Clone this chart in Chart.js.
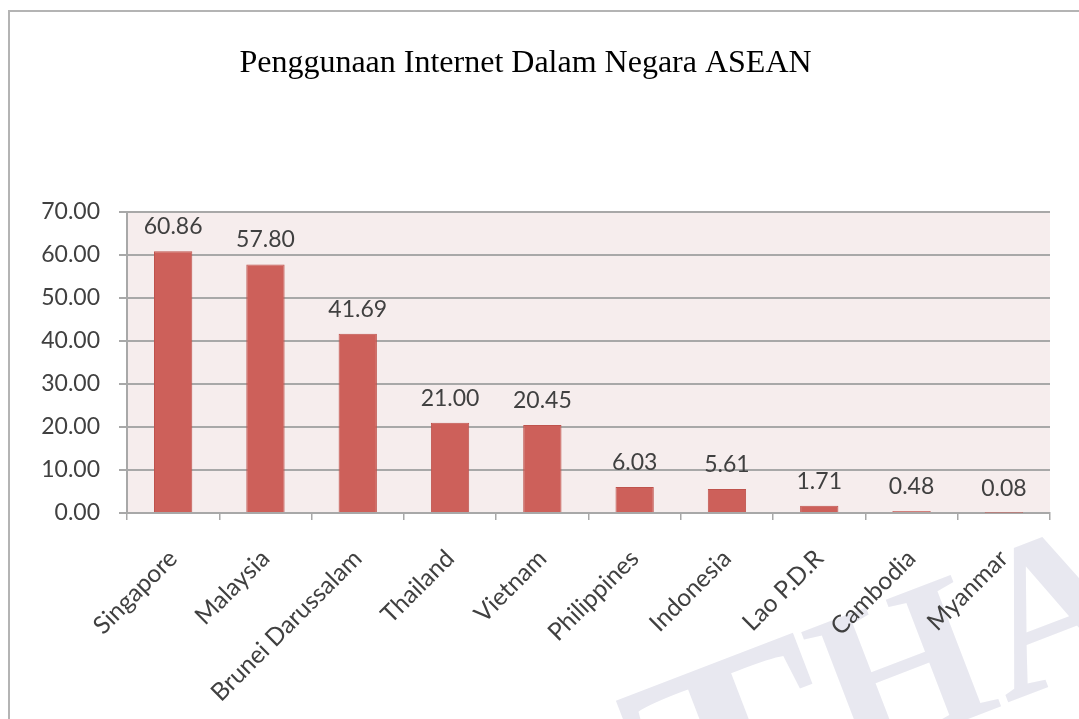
<!DOCTYPE html>
<html><head><meta charset="utf-8">
<script src="https://cdn.jsdelivr.net/npm/chart.js@4/dist/chart.umd.min.js"></script>
<style>html,body{margin:0;padding:0;background:#fff;overflow:hidden}#wrap{position:absolute;left:0;top:0;width:1079px;height:719px}</style>
</head><body><div id="wrap"><canvas id="c" width="1079" height="719"></canvas></div>
<script>
const categories = ['Singapore','Malaysia','Brunei Darussalam','Thailand','Vietnam','Philippines','Indonesia','Lao P.D.R','Cambodia','Myanmar'];
const usage = [60.86, 57.80, 41.69, 21.00, 20.45, 6.03, 5.61, 1.71, 0.48, 0.08];
const yTickValues = [0, 10, 20, 30, 40, 50, 60, 70];
const titleText = 'Penggunaan Internet Dalam Negara ASEAN';
const watermarkText = 'THA';

const labelFont = '"Lato", "Open Sans", sans-serif';
const textColor = '#404040';
const gridColor = '#a8a8a8';

const pageDecor = {
  id: 'pageDecor',
  beforeDraw(chart) {
    const ctx = chart.ctx;
    const a = chart.chartArea;
    ctx.save();
    ctx.fillStyle = '#ffffff';
    ctx.fillRect(0, 0, chart.width, chart.height);
    // faint watermark letters (each letter placed by its top-left corner)
    const wmLayout = [
      { x: 613, y: 695, size: 298 },
      { x: 800, y: 628, size: 215 },
      { x: 958, y: 566, size: 215 }
    ];
    const ang = -21 * Math.PI / 180;
    watermarkText.split('').forEach((ch, i) => {
      const p = wmLayout[i];
      ctx.save();
      ctx.translate(p.x, p.y);
      ctx.rotate(ang);
      ctx.fillStyle = '#e8e8f0';
      ctx.font = 'bold ' + p.size + 'px "Liberation Serif", serif';
      ctx.textBaseline = 'alphabetic';
      ctx.textAlign = 'left';
      ctx.fillText(ch, -4, p.size * 0.676);
      ctx.restore();
    });
    // frame lines
    ctx.strokeStyle = '#b4b4b4';
    ctx.lineWidth = 2;
    ctx.beginPath();
    ctx.moveTo(8, 11); ctx.lineTo(chart.width, 11);
    ctx.moveTo(9, 10); ctx.lineTo(9, chart.height);
    ctx.stroke();
    // title
    ctx.fillStyle = '#000000';
    ctx.font = '32px "Liberation Serif", "Times New Roman", serif';
    ctx.textAlign = 'center';
    ctx.textBaseline = 'alphabetic';
    ctx.fillText(titleText, 525.5, 72);
    // plot area background
    ctx.fillStyle = '#f6eded';
    ctx.fillRect(a.left, a.top, a.right - a.left, a.bottom - a.top);
    ctx.restore();
  }
};

const valueLabels = {
  id: 'valueLabels',
  afterDatasetsDraw(chart) {
    const ctx = chart.ctx;
    const meta = chart.getDatasetMeta(0);
    ctx.save();
    ctx.font = '23px ' + labelFont;
    ctx.fillStyle = textColor;
    ctx.textAlign = 'center';
    ctx.textBaseline = 'alphabetic';
    meta.data.forEach((bar, i) => {
      ctx.fillText(usage[i].toFixed(2), bar.x, bar.y - 17);
    });
    ctx.restore();
  }
};

new Chart(document.getElementById('c'), {
  type: 'bar',
  data: {
    labels: categories,
    datasets: [{
      data: usage,
      backgroundColor: '#cd605a',
      borderColor: '#bf534d',
      borderWidth: 1,
      categoryPercentage: 1,
      barPercentage: 0.415
    }]
  },
  options: {
    responsive: false,
    animation: false,
    devicePixelRatio: 1,
    layout: { padding: { top: 212, right: 29, left: 0, bottom: 0 } },
    plugins: { legend: { display: false }, title: { display: false }, tooltip: { enabled: false } },
    scales: {
      x: {
        afterFit(scale) { scale.height = 206; },
        grid: { display: true, drawOnChartArea: false, drawTicks: true, tickLength: 7, color: gridColor, lineWidth: 1.5, offset: true },
        border: { display: true, color: gridColor, width: 2 },
        ticks: {
          autoSkip: false, minRotation: 45, maxRotation: 45, padding: 24,
          color: textColor, font: { family: labelFont, size: 24.5 }
        }
      },
      y: {
        min: 0, max: 70,
        afterFit(scale) { scale.width = 127; },
        afterBuildTicks(scale) { scale.ticks = yTickValues.map(v => ({ value: v })); },
        grid: { color: gridColor, lineWidth: 2, tickLength: 8, drawTicks: true },
        border: { display: true, color: gridColor, width: 2 },
        ticks: {
          padding: 19, color: textColor, font: { family: labelFont, size: 23 },
          callback: (v) => Number(v).toFixed(2)
        }
      }
    }
  },
  plugins: [pageDecor, valueLabels]
});
</script>
</body></html>
